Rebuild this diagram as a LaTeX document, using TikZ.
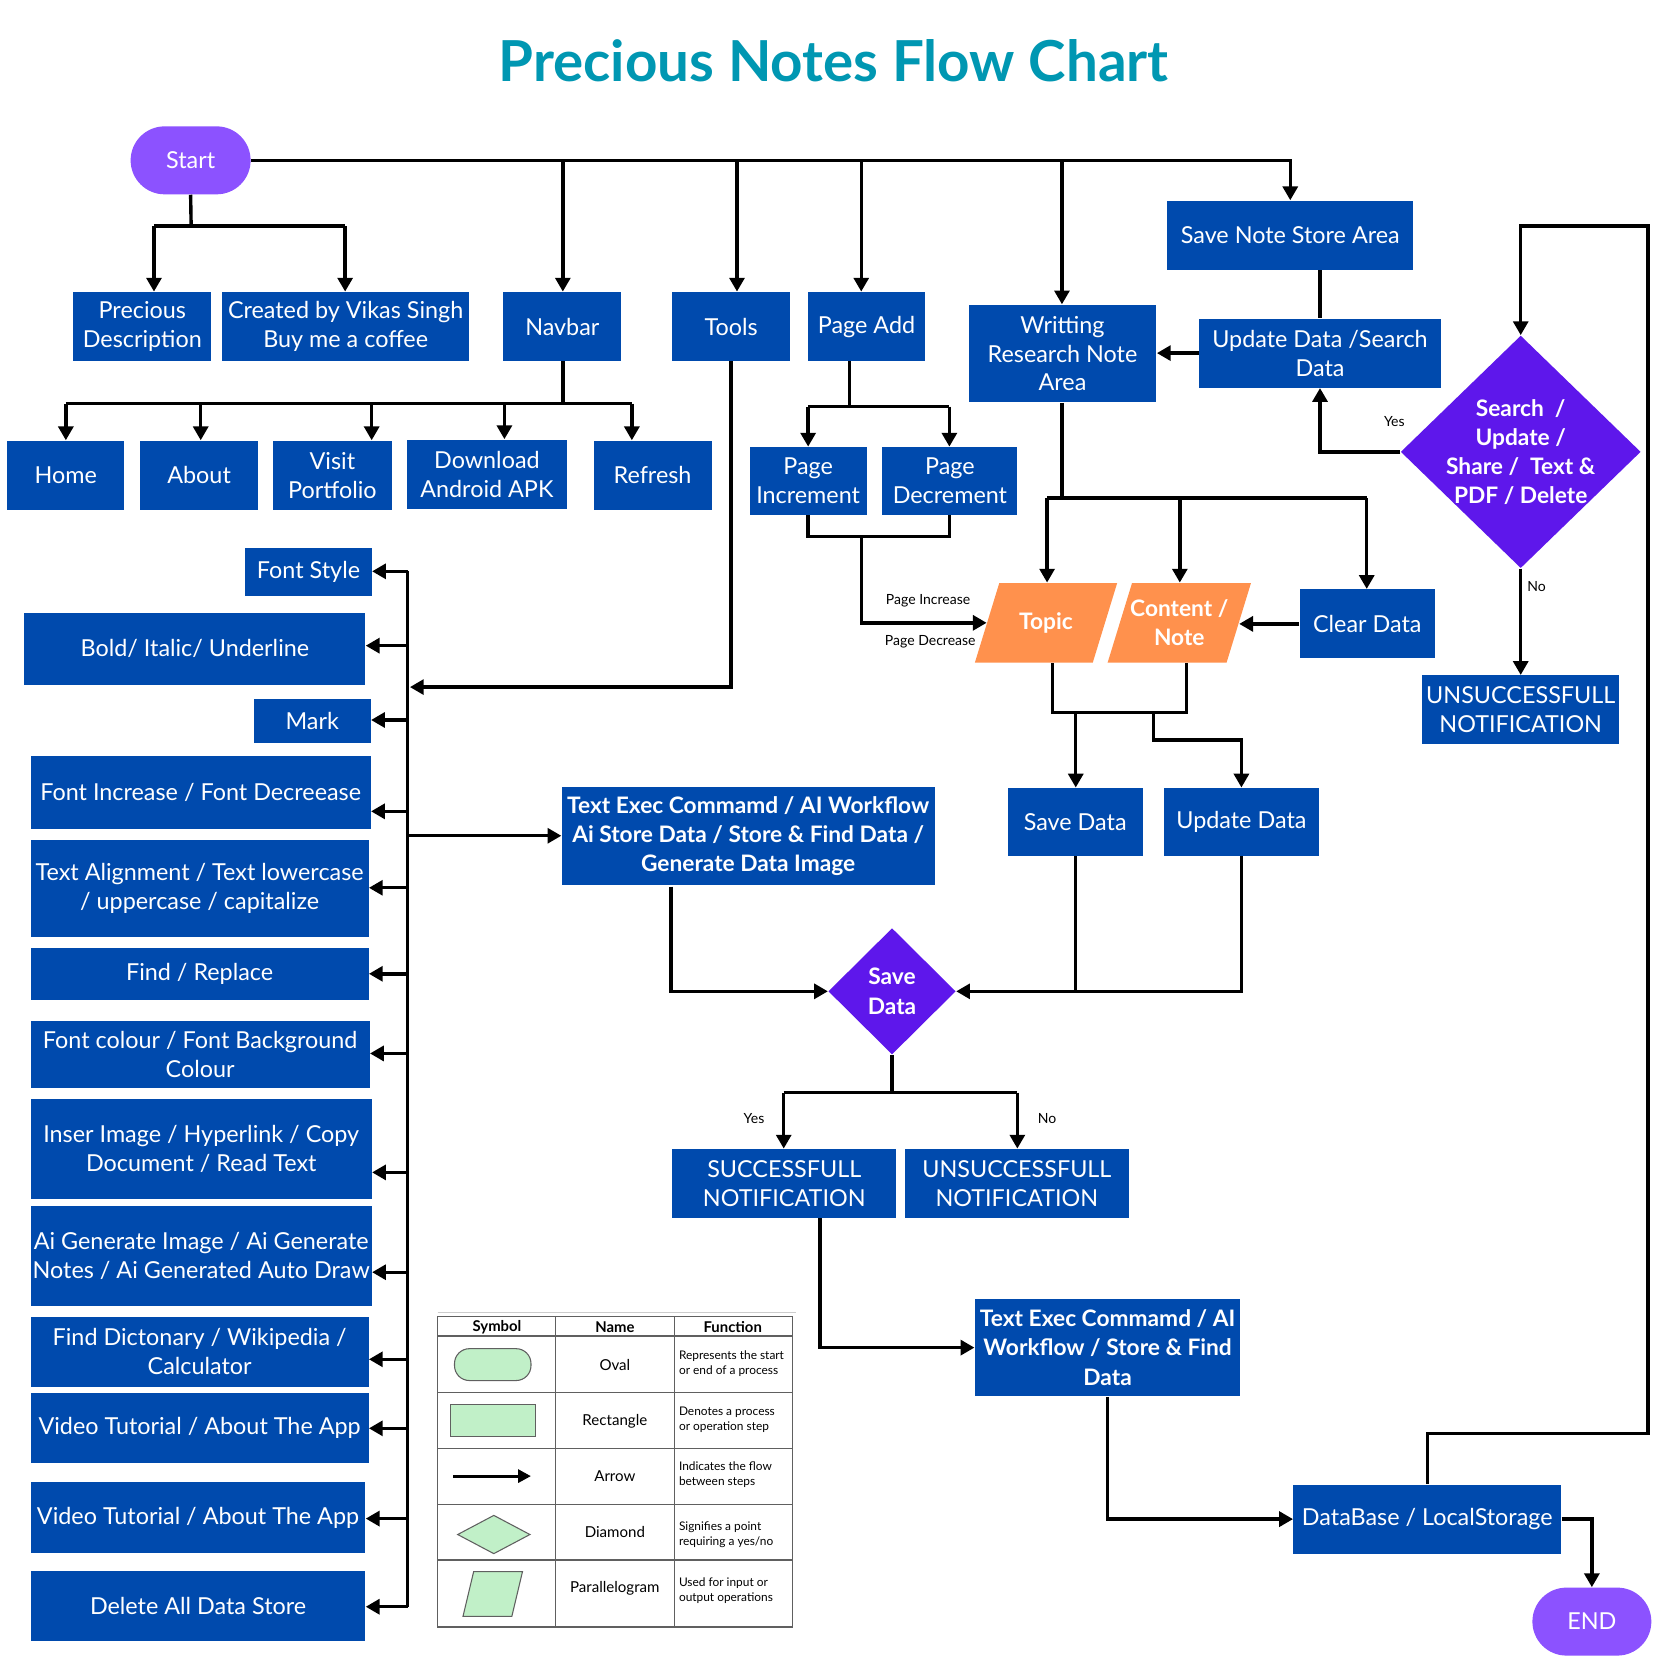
\documentclass[tikz,border=0pt]{standalone}
\usepackage{fontspec}
\setmainfont{Lato}
\usetikzlibrary{shapes.geometric,arrows.meta,calc}
\definecolor{bxblue}{HTML}{004AAD}
\definecolor{startp}{HTML}{8C52FF}
\definecolor{dpurp}{HTML}{5E17EB}
\definecolor{orng}{HTML}{FF914D}
\definecolor{titlec}{HTML}{0097B2}
\definecolor{lgreen}{HTML}{C1F0C8}
\definecolor{lgray}{HTML}{606060}
\tikzset{
 bx/.style={fill=bxblue, text=white, inner sep=0pt, align=center, font=\fontsize{11}{13.6}\selectfont},
 bxb/.style={font=\bfseries\fontsize{10.7}{13.7}\selectfont},
 ln/.style={line width=1.6pt, line join=miter},
 arr/.style={ln, -{Triangle[length=6.5pt,width=7pt]}},
 lbl/.style={font=\fontsize{6.6}{7.5}\selectfont, inner sep=0pt},
 wtxt/.style={text=white, inner sep=0pt, align=center, font=\bfseries\fontsize{10.7}{13.7}\selectfont},
 lgtxt/.style={inner sep=0pt, font=\fontsize{7.1}{8}\selectfont},
 lgfn/.style={inner sep=0pt, align=left, anchor=west, font=\fontsize{5.6}{7}\selectfont},
}
\newcommand\mkbox[7][]{%
 \pgfmathsetmacro\bxcx{(#3+#5)/2}%
 \pgfmathsetmacro\bxcy{(#4+#6)/2}%
 \pgfmathsetmacro\bxw{(#5-#3)/2}%
 \pgfmathsetmacro\bxh{(#6-#4)/2}%
 \node[bx,minimum width=\bxw pt,minimum height=\bxh pt,#1] (#2) at (\bxcx,\bxcy) {#7};%
}
\begin{document}
\begin{tikzpicture}[x=0.5pt,y=-0.5pt]
\useasboundingbox[fill=white] (0,0) rectangle (1566,1566);
% title
\node[font=\bfseries\fontsize{26.6}{30}\selectfont, text=titlec, inner sep=0] (title) at (785,57) {Precious Notes Flow Chart};
% top row
\mkbox[fill=startp, rounded corners=16pt]{start}{123}{119}{236}{183}{Start}
\mkbox{prec}{69}{275}{199}{340}{Precious\\Description}
\mkbox{creat}{209}{275}{442}{340}{Created by Vikas Singh\\Buy me a coffee}
\mkbox{navbar}{474}{275}{585}{340}{Navbar}
\mkbox{tools}{633}{275}{744}{340}{Tools}
\mkbox{pageadd}{761}{275}{871}{340}{Page Add}
\mkbox{writ}{912}{287}{1089}{379}{Writting\\Research Note\\Area}
\mkbox{savenote}{1099}{189}{1331}{254}{Save Note Store Area}
\mkbox{update}{1129}{300}{1357}{365}{Update Data /Search\\Data}
% navbar children
\mkbox{home}{7}{415}{117}{480}{Home}
\mkbox{about}{132}{415}{243}{480}{About}
\mkbox{visit}{257}{415}{369}{480}{Visit\\Portfolio}
\mkbox{dl}{383}{414}{534}{479}{Download\\Android APK}
\mkbox{refresh}{559}{415}{670}{480}{Refresh}
% page add children
\mkbox{pinc}{706}{421}{816}{485}{Page\\Increment}
\mkbox{pdec}{831}{421}{958}{485}{Page\\Decrement}
% topic / content
\fill[orng] (918,624) -- (941,549) -- (1052,549) -- (1029,624) -- cycle;
\node[wtxt, minimum width=55.5pt, minimum height=37.5pt] (topic) at (985,586.5) {Topic};
\fill[orng] (1043,624) -- (1066,549) -- (1178,549) -- (1155,624) -- cycle;
\node[wtxt, minimum width=56pt, minimum height=37.5pt] (content) at (1110.5,586.5) {Content /\\Note};
\mkbox{clear}{1224}{555}{1351}{620}{Clear Data}
% search diamond
\node[diamond, fill=dpurp, minimum width=113pt, minimum height=109.5pt, inner sep=0pt] (search) at (1432,425.5) {};
\node[wtxt] (searcht) at (1432,425.5) {Search~~/\\Update /\\Share /~~Text \&\\PDF / Delete};
\mkbox{unsucctwo}{1339}{636}{1525}{701}{UNSUCCESSFULL\\NOTIFICATION}
% save / update data
\mkbox{savd}{949}{742}{1076}{806}{Save Data}
\mkbox{updd}{1096}{742}{1242}{806}{Update Data}
\mkbox[bxb]{teone}{529}{741}{880}{833}{Text Exec Commamd / AI Workflow\\Ai Store Data / Store \& Find Data /\\Generate Data Image}
\node[diamond, fill=dpurp, minimum width=60pt, minimum height=59.5pt, inner sep=0pt] (sd) at (840,933.5) {};
\node[wtxt] (sdt) at (840,933.5) {Save\\Data};
\mkbox{succ}{633}{1082}{844}{1147}{SUCCESSFULL\\NOTIFICATION}
\mkbox{unsuccone}{852}{1082}{1063}{1147}{UNSUCCESSFULL\\NOTIFICATION}
\mkbox[bxb]{tetwo}{918}{1223}{1168}{1315}{Text Exec Commamd / AI\\Workflow / Store \& Find\\Data}
\mkbox{db}{1218}{1398}{1470}{1463}{DataBase / LocalStorage}
\mkbox[fill=startp, rounded corners=16pt]{end}{1443}{1495}{1555}{1559}{END}
% left list
\mkbox{fs}{231}{516}{350}{561}{Font Style}
\mkbox{biu}{23}{577}{344}{645}{Bold/ Italic/ Underline}
\mkbox{mark}{239}{658}{349}{700}{Mark}
\mkbox{finc}{29}{712}{349}{781}{Font Increase / Font Decreease}
\mkbox{talign}{29}{791}{347}{882}{Text Alignment / Text lowercase\\/ uppercase / capitalize}
\mkbox{find}{29}{893}{347}{942}{Find / Replace}
\mkbox{fcol}{29}{961}{348}{1025}{Font colour / Font Background\\Colour}
\mkbox{ins}{29}{1035}{350}{1129}{Inser Image / Hyperlink / Copy\\Document / Read Text}
\mkbox{aigen}{29}{1136}{350}{1230}{Ai Generate Image / Ai Generate\\Notes / Ai Generated Auto Draw}
\mkbox{dict}{29}{1240}{347}{1306}{Find Dictonary / Wikipedia /\\Calculator}
\mkbox{vtone}{29}{1312}{347}{1378}{Video Tutorial / About The App}
\mkbox{vttwo}{29}{1396}{344}{1462}{Video Tutorial / About The App}
\mkbox{del}{29}{1479}{344}{1545}{Delete All Data Store}
% labels
\node[lbl] (lpi) at (874,566) {Page Increase};
\node[lbl] (lpd) at (876,604) {Page Decrease};
\node[lbl] (lyes1) at (1313,397) {Yes};
\node[lbl] (lno1) at (1447,552) {No};
\node[lbl] (lyes2) at (710,1053) {Yes};
\node[lbl] (lno2) at (986,1053) {No};
% ---------- connectors
% start
\coordinate (sj) at (180,213);
\coordinate (sjl) at (145,213);
\coordinate (sjr) at (325,213);
\draw[ln] (start.south) -- (sj);
\draw[ln] (sjl) -- (sjr);
\draw[arr] (sjl) -- (sjl |- prec.north);
\draw[arr] (sjr) -- (sjr |- creat.north);
% trunk
\draw[arr] (start.east) -| (savenote.north);
\coordinate (d1) at (530,151);
\coordinate (d2) at (694,151);
\coordinate (d3) at (811,151);
\coordinate (d4) at (1000,151);
\draw[arr] (d1) -- (d1 |- navbar.north);
\draw[arr] (d2) -- (d2 |- tools.north);
\draw[arr] (d3) -- (d3 |- pageadd.north);
\draw[arr] (d4) -- (d4 |- writ.north);
% navbar
\coordinate (nj) at (530,380);
\coordinate (njl) at (62,380);
\coordinate (njr) at (595,380);
\coordinate (n2) at (189,380);
\coordinate (n3) at (350,380);
\coordinate (n4) at (475,380);
\draw[ln] (navbar.south -| nj) -- (nj);
\draw[ln] (njl) -- (njr);
\draw[arr] (njl) -- (njl |- home.north);
\draw[arr] (n2) -- (n2 |- about.north);
\draw[arr] (n3) -- (n3 |- visit.north);
\draw[arr] (n4) -- (n4 |- dl.north);
\draw[arr] (njr) -- (njr |- refresh.north);
% page add
\coordinate (pj) at (800,383);
\coordinate (pjl) at (761,383);
\coordinate (pjr) at (894,383);
\draw[ln] (pageadd.south -| pj) -- (pj);
\draw[ln] (pjl) -- (pjr);
\draw[arr] (pjl) -- (pjl |- pinc.north);
\draw[arr] (pjr) -- (pjr |- pdec.north);
\coordinate (pbl) at (761,505);
\coordinate (pbr) at (894,505);
\coordinate (pbm) at (811,505);
\draw[ln] (pinc.south -| pbl) -- (pbl) -- (pbr) -- (pdec.south -| pbr);
\draw[arr] (pbm) |- (topic.west);
% writting
\coordinate (wj) at (1000,469);
\coordinate (wjl) at (986,469);
\coordinate (wjm) at (1111,469);
\coordinate (wjr) at (1287,469);
\draw[ln] (writ.south -| wj) -- (wj);
\draw[ln] (wjl) -- (wjr);
\draw[arr] (wjl) -- (wjl |- topic.north);
\draw[arr] (wjm) -- (wjm |- content.north);
\draw[arr] (wjr) -- (wjr |- clear.north);
\draw[arr] (clear.west) -- (clear.west -| content.east);
% topic/content bottom
\coordinate (tb1) at (991,671);
\coordinate (tb2) at (1117,671);
\coordinate (tb3) at (1013,671);
\coordinate (tb4) at (1086,671);
\coordinate (tb5) at (1086,697);
\draw[ln] (topic.south -| tb1) -- (tb1) -- (tb2) -- (content.south -| tb2);
\draw[arr] (tb3) -- (tb3 |- savd.north);
\draw[arr] (tb4) -- (tb5) -| (updd.north);
% to save diamond
\draw[ln] (savd.south) -- (savd.south |- sd.east);
\draw[arr] (updd.south) |- (sd.east);
\coordinate (te1b) at (632,835);
\draw[arr] (te1b) |- (sd.west);
% save diamond outputs
\coordinate (sdj) at (840,1029);
\coordinate (sdl) at (738,1029);
\coordinate (sdr) at (958,1029);
\draw[ln] (sd.south) -- (sdj);
\draw[ln] (sdl) -- (sdr);
\draw[arr] (sdl) -- (sdl |- succ.north);
\draw[arr] (sdr) -- (sdr |- unsuccone.north);
\coordinate (sb) at (772,1147);
\draw[arr] (sb) |- (tetwo.west);
\draw[arr] (tetwo.south) |- (db.west);
\draw[arr] (db.east) -| (end.north);
% loop back to search
\coordinate (l1) at (1344,1350);
\coordinate (l2) at (1552,1350);
\coordinate (l3) at (1552,213);
\coordinate (l4) at (1432,213);
\draw[arr] (db.north) -- (l1) -- (l2) -- (l3) -- (l4) -- (search.north);
% update area
\draw[ln] (update.north |- savenote.south) -- (update.north);
\draw[arr] (update.west) -- (update.west -| writ.east);
\draw[arr] (search.west) -| (update.south);
\draw[arr] (search.south) -- (unsucctwo.north);
% tools to bus
\coordinate (tbus) at (386,647);
\draw[arr] (tools.south) |- (tbus);
% bus
\coordinate (bt) at (384,538);
\coordinate (bb) at (384,1513);
\draw[ln] (bt) -- (bb);
\foreach \n/\y in {fs/538, biu/608, mark/678, finc/764, talign/836, find/917, fcol/992, ins/1104, aigen/1198, dict/1280, vtone/1345, vttwo/1430, del/1513}{
 \coordinate (bc) at (384,\y);
 \draw[arr] (bc) -- (bc -| \n.east);
}
\coordinate (bte) at (384,787);
\draw[arr] (bte) -- (bte -| teone.west);
% ---------- legend
\draw[gray!40, line width=0.6pt] (412,1236) -- (750,1236);
\draw[lgray, line width=0.6pt] (412,1240) rectangle (746,1532);
\foreach \xx in {523,635} {\draw[lgray, line width=0.6pt] (\xx,1240) -- (\xx,1532);}
\foreach \yy in {1258,1311,1364,1417,1469} {\draw[lgray, line width=0.6pt] (412,\yy) -- (746,\yy);}
\node[lgtxt, font=\bfseries\fontsize{7}{8}\selectfont] (lh1) at (468,1250) {Symbol};
\node[lgtxt, font=\bfseries\fontsize{7}{8}\selectfont] (lh2) at (579,1250) {Name};
\node[lgtxt, font=\bfseries\fontsize{7}{8}\selectfont] (lh3) at (690,1250) {Function};
\node[lgtxt] (ln1) at (579,1285) {Oval};
\node[lgtxt] (ln2) at (579,1338) {Rectangle};
\node[lgtxt] (ln3) at (579,1390) {Arrow};
\node[lgtxt] (ln4) at (579,1443) {Diamond};
\node[lgtxt] (ln5) at (579,1496) {Parallelogram};
\node[lgfn] (lf1) at (639,1284) {Represents the start\\or end of a process};
\node[lgfn] (lf2) at (639,1337) {Denotes a process\\or operation step};
\node[lgfn] (lf3) at (639,1389) {Indicates the flow\\between steps};
\node[lgfn] (lf4) at (639,1445) {Signifies a point\\requiring a yes/no};
\node[lgfn] (lf5) at (639,1498) {Used for input or\\output operations};
\draw[fill=lgreen, draw=lgray, line width=0.5pt, rounded corners=7pt] (428,1270) rectangle (500,1300);
\draw[fill=lgreen, draw=lgray, line width=0.5pt] (424,1323) rectangle (504,1353);
\draw[line width=1.5pt, -{Triangle[length=6pt,width=6pt]}] (427,1390) -- (500,1390);
\draw[fill=lgreen, draw=lgray, line width=0.5pt] (431,1445) -- (465,1427) -- (499,1445) -- (465,1463) -- cycle;
\draw[fill=lgreen, draw=lgray, line width=0.5pt] (436,1522) -- (446,1480) -- (492,1480) -- (482,1522) -- cycle;
\end{tikzpicture}
\end{document}
